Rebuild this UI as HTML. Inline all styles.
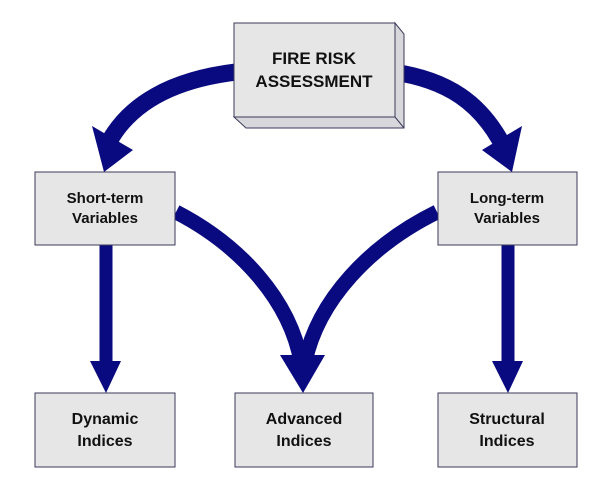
<!DOCTYPE html>
<html><head><style>
html,body{margin:0;padding:0;background:#fff;}
svg{display:block}
text{font-family:"Liberation Sans",Arial,sans-serif;font-weight:bold;fill:#111;text-anchor:middle}
</style></head><body>
<svg width="594" height="486" viewBox="0 0 594 486" xmlns="http://www.w3.org/2000/svg">
<g fill="none" stroke="#0a0a80" stroke-linecap="butt">
<path d="M236,72 C170,80 130,105 110,140" stroke-width="17"/>
<path d="M393,72 C450,80 480,105 500,140" stroke-width="17"/>
<path d="M176,212 C240,245 290,300 301,362" stroke-width="15"/>
<path d="M437,212 C370,245 318,300 305,362" stroke-width="15"/>
<line x1="106" y1="245" x2="106" y2="364" stroke-width="13"/>
<line x1="508" y1="245" x2="508" y2="364" stroke-width="13"/>
</g>
<g fill="#0a0a80">
<polygon points="92,126 133,150 104,172"/>
<polygon points="482,150 522,126 512,172"/>
<polygon points="280,355 325,355 303,393"/>
<polygon points="90,361 121,361 106,393"/>
<polygon points="492,361 523,361 508,393"/>
</g>
<g stroke="#3a3a5a" stroke-width="1">
<polygon points="395,23 404,34 404,128 246,128 234,117 395,117" fill="#d8d8dc"/>
<rect x="234" y="23" width="161" height="94" fill="#e6e6e6"/>
<line x1="395" y1="117" x2="404" y2="128"/>
<rect x="35" y="172" width="140" height="73" fill="#e6e6e6"/>
<rect x="438" y="172" width="139" height="73" fill="#e6e6e6"/>
<rect x="35" y="393" width="140" height="74" fill="#e6e6e6"/>
<rect x="235" y="393" width="138" height="74" fill="#e6e6e6"/>
<rect x="438" y="393" width="139" height="74" fill="#e6e6e6"/>
</g>
<text x="314" y="64" font-size="17">FIRE RISK</text>
<text x="314" y="87" font-size="17">ASSESSMENT</text>
<text x="105" y="203" font-size="15">Short-term</text>
<text x="105" y="223" font-size="15">Variables</text>
<text x="507" y="203" font-size="15">Long-term</text>
<text x="507" y="223" font-size="15">Variables</text>
<text x="105" y="424" font-size="16">Dynamic</text>
<text x="105" y="446" font-size="16">Indices</text>
<text x="304" y="424" font-size="16">Advanced</text>
<text x="304" y="446" font-size="16">Indices</text>
<text x="507" y="424" font-size="16">Structural</text>
<text x="507" y="446" font-size="16">Indices</text>
</svg>
</body></html>
